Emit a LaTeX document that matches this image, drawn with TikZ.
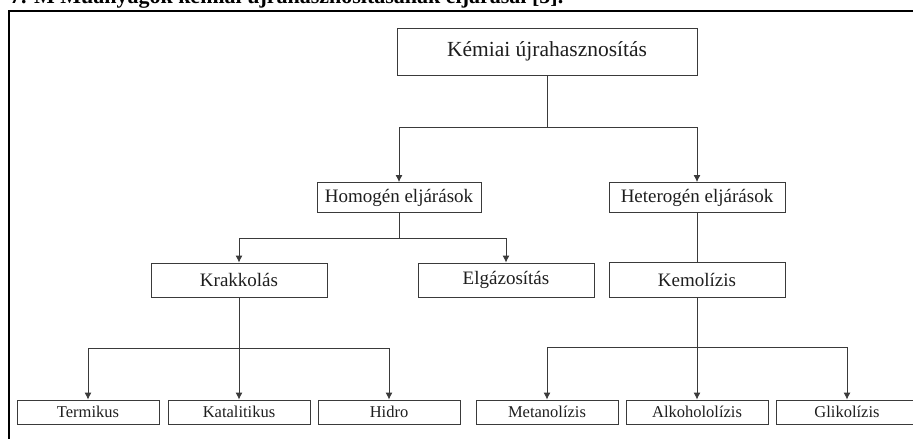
\documentclass[tikz,border=0pt]{standalone}
\usepackage{fontspec}
\setmainfont{Liberation Serif}
\usetikzlibrary{arrows.meta}
\definecolor{ink}{HTML}{1E1E1E}
\definecolor{edgecol}{HTML}{3A3A3A}
\begin{document}
\begin{tikzpicture}[x=1pt,y=-1pt,
  box/.style={draw=edgecol, line width=0.9pt, fill=white, text=ink, inner sep=0pt, anchor=center},
  topbox/.style={box, minimum width=300, minimum height=47, font=\fontsize{21.5}{24}\selectfont},
  midbox/.style={box, minimum height=30, font=\fontsize{19}{22}\selectfont},
  lowbox/.style={box, minimum width=142, minimum height=24, font=\fontsize{16.5}{19}\selectfont},
  arr/.style={draw=edgecol, line width=0.9pt, -{Latex[length=7pt,width=7pt]}},
  ln/.style={draw=edgecol, line width=0.9pt}]
\useasboundingbox (0,0) rectangle (913,439);
\clip (0,0) rectangle (913,439);

% caption, cut at the top edge
\node[anchor=base west, inner sep=0pt, font=\fontsize{22}{24}\selectfont\bfseries] (title) at (10,3)
  {7. M Műanyagok kémiai újrahasznosításának eljárásai [5].};

% outer frame (left and top sides)
\draw[line width=2pt] (9,440) -- (9,11) -- (915,11);

% nodes
\node[topbox] (top) at (547,51.5) {Kémiai újrahasznosítás};
\node[midbox, minimum width=164] (hom) at (399,197.5) {Homogén eljárások};
\node[midbox, minimum width=176] (het) at (697,197.5) {Heterogén eljárások};
\node[midbox, minimum width=176, minimum height=34] (krak) at (239,280) {Krakkolás};
\node[midbox, minimum width=176, minimum height=34] (elg) at (506,280) {Elgázosítás};
\node[midbox, minimum width=176, minimum height=35] (kem) at (697,279.5) {Kemolízis};

\node[lowbox] (term) at (88,412) {Termikus};
\node[lowbox] (kat) at (239,412) {Katalitikus};
\node[lowbox] (hidro) at (389,412) {Hidro};
\node[lowbox] (meta) at (547,412) {Metanolízis};
\node[lowbox] (alk) at (697,412) {Alkohololízis};
\node[lowbox] (glik) at (847,412) {Glikolízis};

% connectors
\draw[arr] (top.south) -- ++(0,52) -| (hom.north);
\draw[arr] (top.south) -- ++(0,52) -| (het.north);
\draw[arr] (hom.south) -- ++(0,25) -| (krak.north);
\draw[arr] (hom.south) -- ++(0,25) -| (elg.north);
\draw[ln] (het.south) -- (kem.north);

\draw[arr] (krak.south) -- ++(0,51) -| (term.north);
\draw[arr] (krak.south) -- (kat.north);
\draw[arr] (krak.south) -- ++(0,51) -| (hidro.north);

\draw[arr] (kem.south) -- ++(0,50) -| (meta.north);
\draw[arr] (kem.south) -- (alk.north);
\draw[arr] (kem.south) -- ++(0,50) -| (glik.north);
\end{tikzpicture}
\end{document}
